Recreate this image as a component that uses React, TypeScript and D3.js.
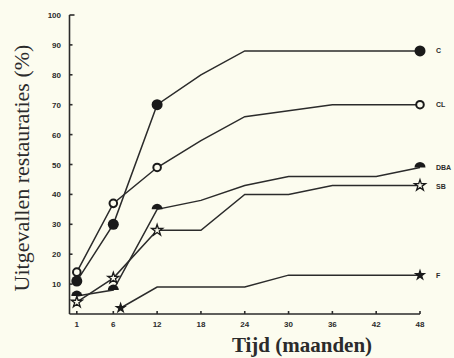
import React, { useEffect, useRef } from "react";
import * as d3 from "d3";

// months on the x axis
const months = [1, 6, 12, 18, 24, 30, 36, 42, 48];
const fMonths = [7, 12, 18, 24, 30, 36, 42, 48];
const xTicks = [1, 6, 12, 18, 24, 30, 36, 42, 48];
const yTicks = [10, 20, 30, 40, 50, 60, 70, 80, 90, 100];

// percentage failed restorations
const cValues = [11, 30, 70, 80, 88, 88, 88, 88, 88];
const clValues = [14, 37, 49, 58, 66, 68, 70, 70, 70];
const dbaValues = [6, 8, 35, 38, 43, 46, 46, 46, 49];
const sbValues = [4, 12, 28, 28, 40, 40, 43, 43, 43];
const fValues = [2, 9, 9, 9, 13, 13, 13, 13];

const seriesNames = ["C", "CL", "DBA", "SB", "F"];

const W = 454;
const H = 358;
const ink = "#2b2b2b";
const paper = "#fcfcef";

function Chart() {
  const svgRef = useRef<SVGSVGElement>(null);

  useEffect(() => {
    const svg = d3.select(svgRef.current);
    svg.selectAll("*").remove();

    const x = d3.scaleLinear().domain([0, 48]).range([69.5, 420]);
    const y = d3.scaleLinear().domain([0, 100]).range([314, 15]);

    const series = [
      { name: seriesNames[0], xs: months, ys: cValues, marker: "fillCircle", at: [0, 1, 2, 8] },
      { name: seriesNames[1], xs: months, ys: clValues, marker: "openCircle", at: [0, 1, 2, 8] },
      { name: seriesNames[2], xs: months, ys: dbaValues, marker: "dome", at: [0, 1, 2, 8] },
      { name: seriesNames[3], xs: months, ys: sbValues, marker: "openStar", at: [0, 1, 2, 8] },
      { name: seriesNames[4], xs: fMonths, ys: fValues, marker: "fillStar", at: [0, 7] }
    ];

    // background
    svg.append("rect").attr("width", W).attr("height", H).attr("fill", paper);

    // axes
    const axes = svg.append("g").attr("stroke", ink).attr("stroke-width", 1.6);
    axes.append("line").attr("x1", x(0)).attr("x2", x(0)).attr("y1", y(100)).attr("y2", y(0));
    axes.append("line").attr("x1", x(0)).attr("x2", x(48)).attr("y1", y(0)).attr("y2", y(0));

    axes
      .selectAll(".yt")
      .data(yTicks)
      .enter()
      .append("line")
      .attr("x1", x(0))
      .attr("x2", (d) => x(0) + (d === 100 ? 5 : 3))
      .attr("y1", (d) => y(d))
      .attr("y2", (d) => y(d));

    axes
      .selectAll(".xt")
      .data(xTicks)
      .enter()
      .append("line")
      .attr("x1", (d) => x(d))
      .attr("x2", (d) => x(d))
      .attr("y1", y(0))
      .attr("y2", y(0) - 3);

    const tickFont = "'Liberation Sans', Arial, sans-serif";
    svg
      .append("g")
      .selectAll("text")
      .data(yTicks)
      .enter()
      .append("text")
      .attr("x", 61)
      .attr("y", (d) => y(d) + 3)
      .attr("text-anchor", "end")
      .attr("font-family", tickFont)
      .attr("font-weight", "bold")
      .attr("font-size", 8)
      .attr("fill", ink)
      .text((d) => d);

    svg
      .append("g")
      .selectAll("text")
      .data(xTicks)
      .enter()
      .append("text")
      .attr("x", (d) => x(d))
      .attr("y", 327)
      .attr("text-anchor", "middle")
      .attr("font-family", tickFont)
      .attr("font-weight", "bold")
      .attr("font-size", 8)
      .attr("fill", ink)
      .text((d) => d);

    // axis titles
    const titleFont = "'Liberation Serif', 'Times New Roman', serif";
    svg
      .append("text")
      .attr("transform", `translate(29, 168) rotate(-90)`)
      .attr("text-anchor", "middle")
      .attr("font-family", titleFont)
      .attr("font-size", 22)
      .attr("fill", ink)
      .text("Uitgevallen restauraties (%)");

    svg
      .append("text")
      .attr("x", 302)
      .attr("y", 352)
      .attr("text-anchor", "middle")
      .attr("font-family", titleFont)
      .attr("font-weight", "bold")
      .attr("font-size", 21)
      .attr("fill", ink)
      .text("Tijd (maanden)");

    // lines
    const line = d3
      .line<[number, number]>()
      .x((d) => x(d[0]))
      .y((d) => y(d[1]));

    const plot = svg.append("g");
    series.forEach((s) => {
      const pts = s.xs.map((m, i) => [m, s.ys[i]] as [number, number]);
      plot
        .append("path")
        .attr("d", line(pts))
        .attr("fill", "none")
        .attr("stroke", ink)
        .attr("stroke-width", 1.5);

      const markerPts = s.at.map((i) => pts[i]);
      const g = plot
        .selectAll(null)
        .data(markerPts)
        .enter()
        .append("path")
        .attr("transform", (d) => `translate(${x(d[0])},${y(d[1])})`);

      if (s.marker === "fillCircle") {
        g.attr("d", d3.symbol().type(d3.symbolCircle).size(95)()).attr("fill", "#1a1a1a");
      } else if (s.marker === "openCircle") {
        g.attr("d", d3.symbol().type(d3.symbolCircle).size(45)())
          .attr("fill", paper)
          .attr("stroke", "#1a1a1a")
          .attr("stroke-width", 2);
      } else if (s.marker === "dome") {
        const dome = d3.arc()({
          innerRadius: 0,
          outerRadius: 5.5,
          startAngle: -Math.PI / 2,
          endAngle: Math.PI / 2
        } as any);
        g.attr("d", dome).attr("fill", "#1a1a1a");
      } else if (s.marker === "openStar") {
        g.attr("d", d3.symbol().type(d3.symbolStar).size(38)())
          .attr("fill", paper)
          .attr("stroke", "#1a1a1a")
          .attr("stroke-width", 1.3);
      } else {
        g.attr("d", d3.symbol().type(d3.symbolStar).size(48)()).attr("fill", "#1a1a1a");
      }

      // series label at the end
      const last = pts[pts.length - 1];
      plot
        .append("text")
        .attr("x", 436)
        .attr("y", y(last[1]) + 2.5 + (s.name === "SB" ? 1 : 0))
        .attr("font-family", tickFont)
        .attr("font-weight", "bold")
        .attr("font-size", 7)
        .attr("fill", ink)
        .text(s.name);
    });
  }, []);

  return <svg ref={svgRef} width={W} height={H} style={{ display: "block" }} />;
}

export default function App() {
  return (
    <div style={{ position: "absolute", left: 0, top: 0, width: W, height: H }}>
      <Chart />
    </div>
  );
}
